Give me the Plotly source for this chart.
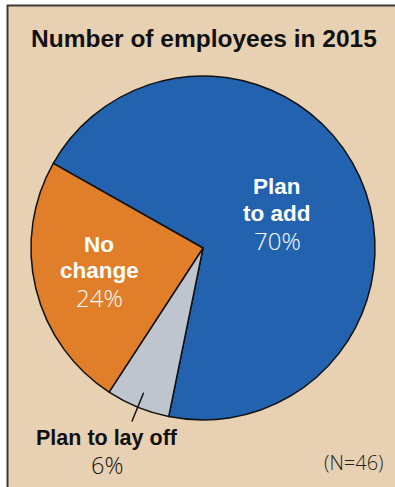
import math
import plotly.graph_objects as go

# Survey responses: planned change in headcount for 2015
categories = ["Plan to add", "Plan to lay off", "No change"]
shares = [70, 6, 24]
label_lines = [["Plan", "to add"], ["Plan to lay off"], ["No", "change"]]
respondents = 46
title_text = "Number of employees in 2015"

colors = ["#2262ae", "#bec5cf", "#e07e2a"]
beige = "#e8d1b2"

W, H = 395, 487
CX, CY, R = 203, 248, 172          # pie centre and radius in pixels
ROTATION = 299.5                    # clockwise start angle of the first slice


def px(x):
    return x / W


def py(y):
    return 1 - y / H


fig = go.Figure()
fig.add_trace(go.Pie(
    labels=categories,
    values=shares,
    sort=False,
    direction="clockwise",
    rotation=ROTATION,
    marker=dict(colors=colors, line=dict(color="#111111", width=1.5)),
    textinfo="none",
    hoverinfo="label+percent",
    showlegend=False,
    domain=dict(x=[px(CX - R), px(CX + R)], y=[py(CY + R), py(CY - R)]),
))

bold = "Liberation Sans, Arial, sans-serif"
light = "Open Sans, sans-serif"

annotations = []


def add_label(lines, value, x, y_lines, color, bold_size, pct_size=24):
    """One annotation per text line: bold name lines, then a light percentage."""
    for line, y in zip(lines, y_lines):
        annotations.append(dict(text=f"<b>{line}</b>", x=px(x), y=py(y),
                                font=dict(color=color, size=bold_size, family=bold)))
    annotations.append(dict(text=f"{value}%", x=px(x), y=py(y_lines[-1]),
                            font=dict(color=color, size=pct_size, family=light, weight=300)))


add_label(label_lines[0], shares[0], 277, [186, 213, 240], "white", 22.5)
add_label(label_lines[2], shares[2], 99, [244, 270, 297], "white", 22.5)
add_label(label_lines[1], shares[1], 107, [438, 465], "#111111", 21.5, 23.5)

annotations.append(dict(text=f"(N={respondents})", x=px(386), y=py(462), xanchor="right",
                        font=dict(color="#222222", size=20, family=light, weight=300)))
annotations.append(dict(text=f"<b>{title_text}</b>", x=px(203.5), y=py(38),
                        font=dict(color="#111111", size=24.5, family=bold)))
for a in annotations:
    a.update(xref="paper", yref="paper", showarrow=False)
    a.setdefault("xanchor", "center")
    a.setdefault("yanchor", "middle")

# Leader line from the small slice to its outside label
total = sum(shares)
start = ROTATION + 360 * shares[0] / total
mid = math.radians(start + 180 * shares[1] / total)
r_in, r_out = 0.91 * R, 1.09 * R
shapes = [
    dict(type="rect", xref="paper", yref="paper",
         x0=px(7.5), x1=1.1, y0=-0.1, y1=py(5.5),
         fillcolor=beige, line=dict(color="#3a3a3a", width=2), layer="below"),
    dict(type="line", xref="paper", yref="paper",
         x0=px(CX + r_in * math.sin(mid)), y0=py(CY - r_in * math.cos(mid)),
         x1=px(CX + r_out * math.sin(mid)), y1=py(CY - r_out * math.cos(mid)),
         line=dict(color="#111111", width=1.5)),
]

fig.update_layout(
    width=W, height=H,
    margin=dict(l=0, r=0, t=0, b=0),
    paper_bgcolor="white",
    annotations=annotations,
    shapes=shapes,
)

fig.write_html("out.html", config={"displayModeBar": False})
